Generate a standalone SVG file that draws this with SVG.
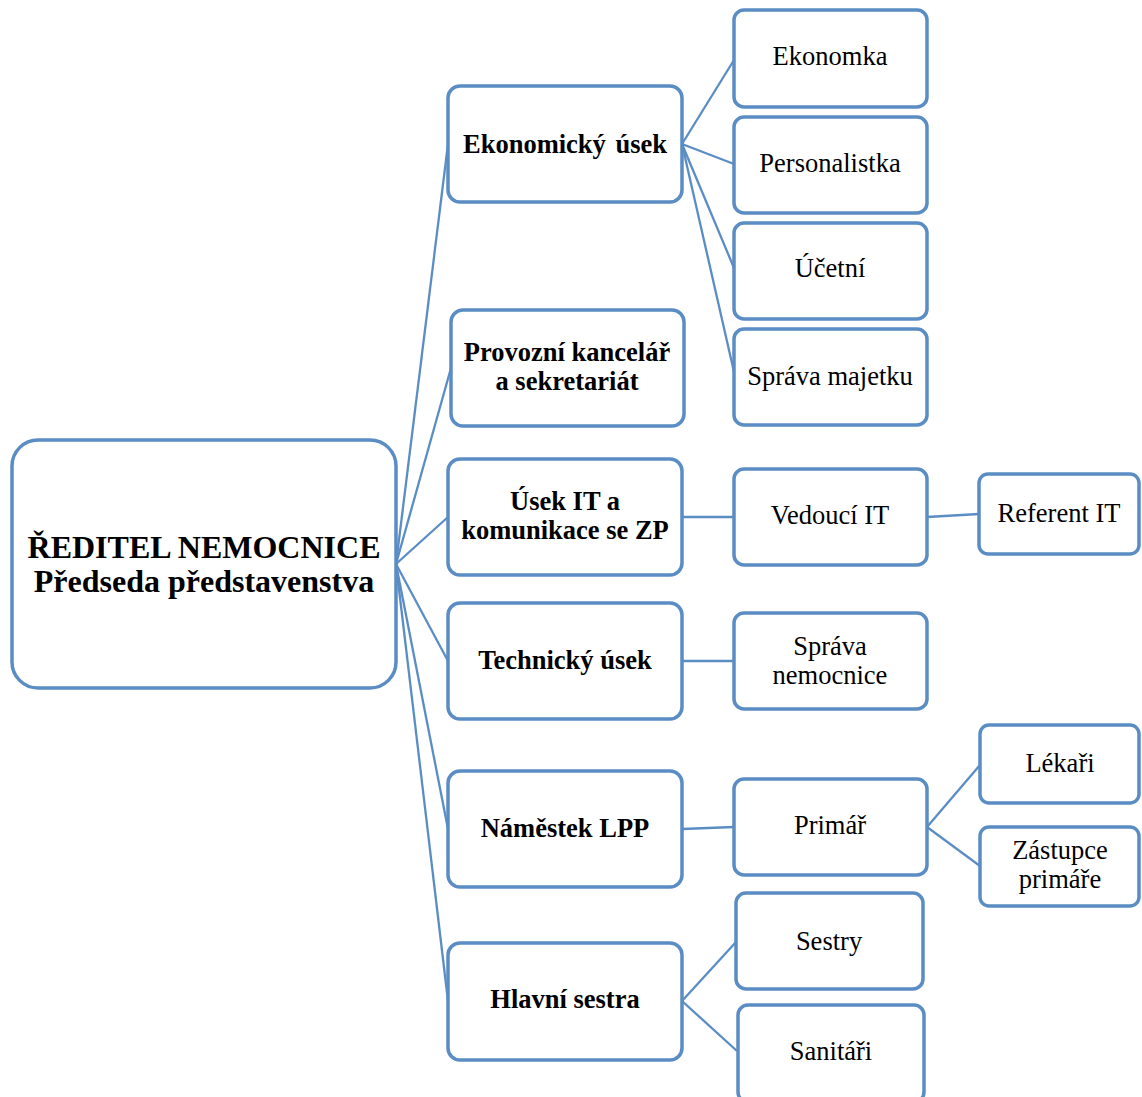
<svg xmlns="http://www.w3.org/2000/svg" width="1142" height="1097" viewBox="0 0 1142 1097">
  <style>
    .box { fill: #ffffff; stroke: #5B8DC5; stroke-width: 3.5; }
    .link { stroke: #5B8DC5; stroke-width: 2.3; fill: none; }
    .t { font-family: "Liberation Serif", "Times New Roman", serif; fill: #000000; text-anchor: middle; }
    .root { font-size: 32px; font-weight: bold; }
    .l1 { font-size: 26.5px; font-weight: bold; }
    .l2 { font-size: 26.5px; }
  </style>

  <!-- connectors -->
  <g id="connectors">
    <!-- director to departments -->
    <line class="link" x1="396" y1="564" x2="448" y2="144"/>
    <line class="link" x1="396" y1="564" x2="451" y2="368"/>
    <line class="link" x1="396" y1="564" x2="448" y2="517"/>
    <line class="link" x1="396" y1="564" x2="448" y2="661"/>
    <line class="link" x1="396" y1="564" x2="448" y2="829"/>
    <line class="link" x1="396" y1="564" x2="448" y2="1001"/>
    <!-- economic section -->
    <line class="link" x1="682" y1="144" x2="734" y2="60"/>
    <line class="link" x1="682" y1="144" x2="734" y2="164"/>
    <line class="link" x1="682" y1="144" x2="734" y2="268"/>
    <line class="link" x1="682" y1="144" x2="734" y2="372"/>
    <!-- IT -->
    <line class="link" x1="682" y1="517" x2="734" y2="517"/>
    <line class="link" x1="927" y1="517" x2="979" y2="514"/>
    <!-- technical -->
    <line class="link" x1="682" y1="661" x2="734" y2="661"/>
    <!-- deputy -->
    <line class="link" x1="682" y1="829" x2="734" y2="827"/>
    <line class="link" x1="927" y1="827" x2="980" y2="765"/>
    <line class="link" x1="927" y1="827" x2="980" y2="866"/>
    <!-- head nurse -->
    <line class="link" x1="682" y1="1001" x2="736" y2="942"/>
    <line class="link" x1="682" y1="1001" x2="737" y2="1051"/>
  </g>

  <!-- root -->
  <g id="reditel">
    <rect class="box" x="12" y="440" width="384" height="248" rx="26"/>
    <text class="t root" x="204" y="558">ŘEDITEL NEMOCNICE<tspan x="204" dy="34">Předseda představenstva</tspan></text>
  </g>

  <!-- level 1 -->
  <g id="ekonomicky-usek">
    <rect class="box" x="448" y="86" width="234" height="116" rx="12"/>
    <text class="t l1" x="565" y="153" word-spacing="3">Ekonomický úsek</text>
  </g>
  <g id="provozni-kancelar">
    <rect class="box" x="451" y="310" width="233" height="116" rx="12"/>
    <text class="t l1" x="567" y="361">Provozní kancelář<tspan x="567" dy="28.5">a sekretariát</tspan></text>
  </g>
  <g id="usek-it">
    <rect class="box" x="448" y="459" width="234" height="116" rx="12"/>
    <text class="t l1" x="565" y="510">Úsek IT a<tspan x="565" dy="28.5">komunikace se ZP</tspan></text>
  </g>
  <g id="technicky-usek">
    <rect class="box" x="448" y="603" width="234" height="116" rx="12"/>
    <text class="t l1" x="565" y="669">Technický úsek</text>
  </g>
  <g id="namestek-lpp">
    <rect class="box" x="448" y="771" width="234" height="116" rx="12"/>
    <text class="t l1" x="565" y="837">Náměstek LPP</text>
  </g>
  <g id="hlavni-sestra">
    <rect class="box" x="448" y="943" width="234" height="117" rx="12"/>
    <text class="t l1" x="565" y="1008">Hlavní sestra</text>
  </g>

  <!-- level 2 -->
  <g id="ekonomka">
    <rect class="box" x="734" y="10" width="193" height="97" rx="10"/>
    <text class="t l2" x="830" y="65">Ekonomka</text>
  </g>
  <g id="personalistka">
    <rect class="box" x="734" y="117" width="193" height="96" rx="10"/>
    <text class="t l2" x="830" y="172">Personalistka</text>
  </g>
  <g id="ucetni">
    <rect class="box" x="734" y="223" width="193" height="96" rx="10"/>
    <text class="t l2" x="830" y="277">Účetní</text>
  </g>
  <g id="sprava-majetku">
    <rect class="box" x="734" y="329" width="193" height="96" rx="10"/>
    <text class="t l2" x="830" y="385">Správa majetku</text>
  </g>
  <g id="vedouci-it">
    <rect class="box" x="734" y="469" width="193" height="96" rx="10"/>
    <text class="t l2" x="830" y="524">Vedoucí IT</text>
  </g>
  <g id="sprava-nemocnice">
    <rect class="box" x="734" y="613" width="193" height="96" rx="10"/>
    <text class="t l2" x="830" y="655">Správa<tspan x="830" dy="28.5">nemocnice</tspan></text>
  </g>
  <g id="primar">
    <rect class="box" x="734" y="779" width="193" height="96" rx="10"/>
    <text class="t l2" x="830" y="834">Primář</text>
  </g>
  <g id="sestry">
    <rect class="box" x="736" y="893" width="187" height="96" rx="10"/>
    <text class="t l2" x="829" y="950">Sestry</text>
  </g>
  <g id="sanitari">
    <rect class="box" x="738" y="1005" width="186" height="97" rx="10"/>
    <text class="t l2" x="831" y="1060">Sanitáři</text>
  </g>

  <!-- level 3 -->
  <g id="referent-it">
    <rect class="box" x="979" y="474" width="160" height="80" rx="9"/>
    <text class="t l2" x="1059" y="522">Referent IT</text>
  </g>
  <g id="lekari">
    <rect class="box" x="980" y="725" width="159" height="78" rx="9"/>
    <text class="t l2" x="1060" y="772">Lékaři</text>
  </g>
  <g id="zastupce-primare">
    <rect class="box" x="980" y="827" width="159" height="79" rx="9"/>
    <text class="t l2" x="1060" y="859">Zástupce<tspan x="1060" dy="28.5">primáře</tspan></text>
  </g>
</svg>
